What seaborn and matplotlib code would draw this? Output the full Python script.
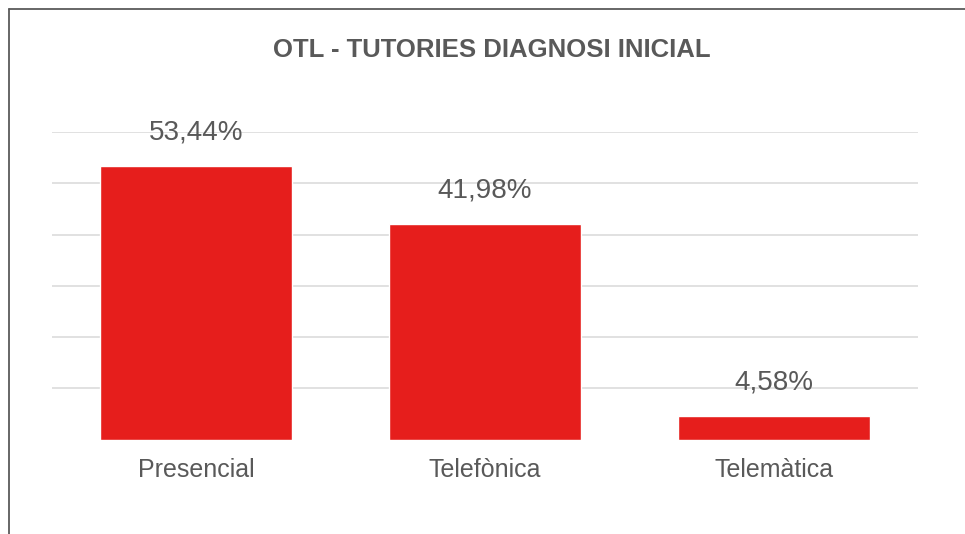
import matplotlib
matplotlib.use("Agg")
import matplotlib.pyplot as plt
from matplotlib.lines import Line2D
import seaborn as sns
import pandas as pd

categories = ["Presencial", "Telefònica", "Telemàtica"]
values = [53.44, 41.98, 4.58]
value_labels = ["53,44%", "41,98%", "4,58%"]
title = "OTL - TUTORIES DIAGNOSI INICIAL"

sns.set_theme(style="white")
plt.rcParams['font.family'] = ['Liberation Sans', 'DejaVu Sans']

text_color = "#595959"
bar_color = "#E61E1C"

df = pd.DataFrame({"cat": categories, "val": values})

fig = plt.figure(figsize=(9.65, 5.34), dpi=100)
ax = fig.add_axes([52/965, (534-439.6)/534, (918-52)/965, (439.6-132)/534])

sns.barplot(data=df, x="cat", y="val", color=bar_color, width=0.664,
            saturation=1, ax=ax, zorder=3)

ax.set_ylim(0, 60)
ax.set_xlim(-0.5, 2.5)
ax.set_yticks([10, 20, 30, 40, 50, 60])
ax.set_yticklabels([])
ax.yaxis.grid(True, color="#D9D9D9", linewidth=1.1, zorder=0)
ax.set_axisbelow(True)
for s in ax.spines.values():
    s.set_visible(False)
ax.tick_params(axis="both", length=0)
ax.tick_params(axis="x", pad=13, labelsize=18, labelcolor=text_color)
ax.set_xlabel("")
ax.set_ylabel("")

for i, (v, lab) in enumerate(zip(values, value_labels)):
    ax.annotate(lab, xy=(i, v), xytext=(0, 19), textcoords="offset points",
                ha="center", va="baseline", fontsize=20, color=text_color)

fig.text(491.5/965, 1 - 50/534, title, ha="center", va="center",
         fontsize=18.5, fontweight="bold", color=text_color)

# frame border (left and top visible)
fig.add_artist(Line2D([9/965, 9/965], [0, 1 - 9/534], color="#5A5A5A", linewidth=1.3,
                      transform=fig.transFigure))
fig.add_artist(Line2D([9/965, 1], [1 - 9/534, 1 - 9/534], color="#5A5A5A", linewidth=1.3,
                      transform=fig.transFigure))

fig.savefig("out.png", dpi=100, facecolor="white")
